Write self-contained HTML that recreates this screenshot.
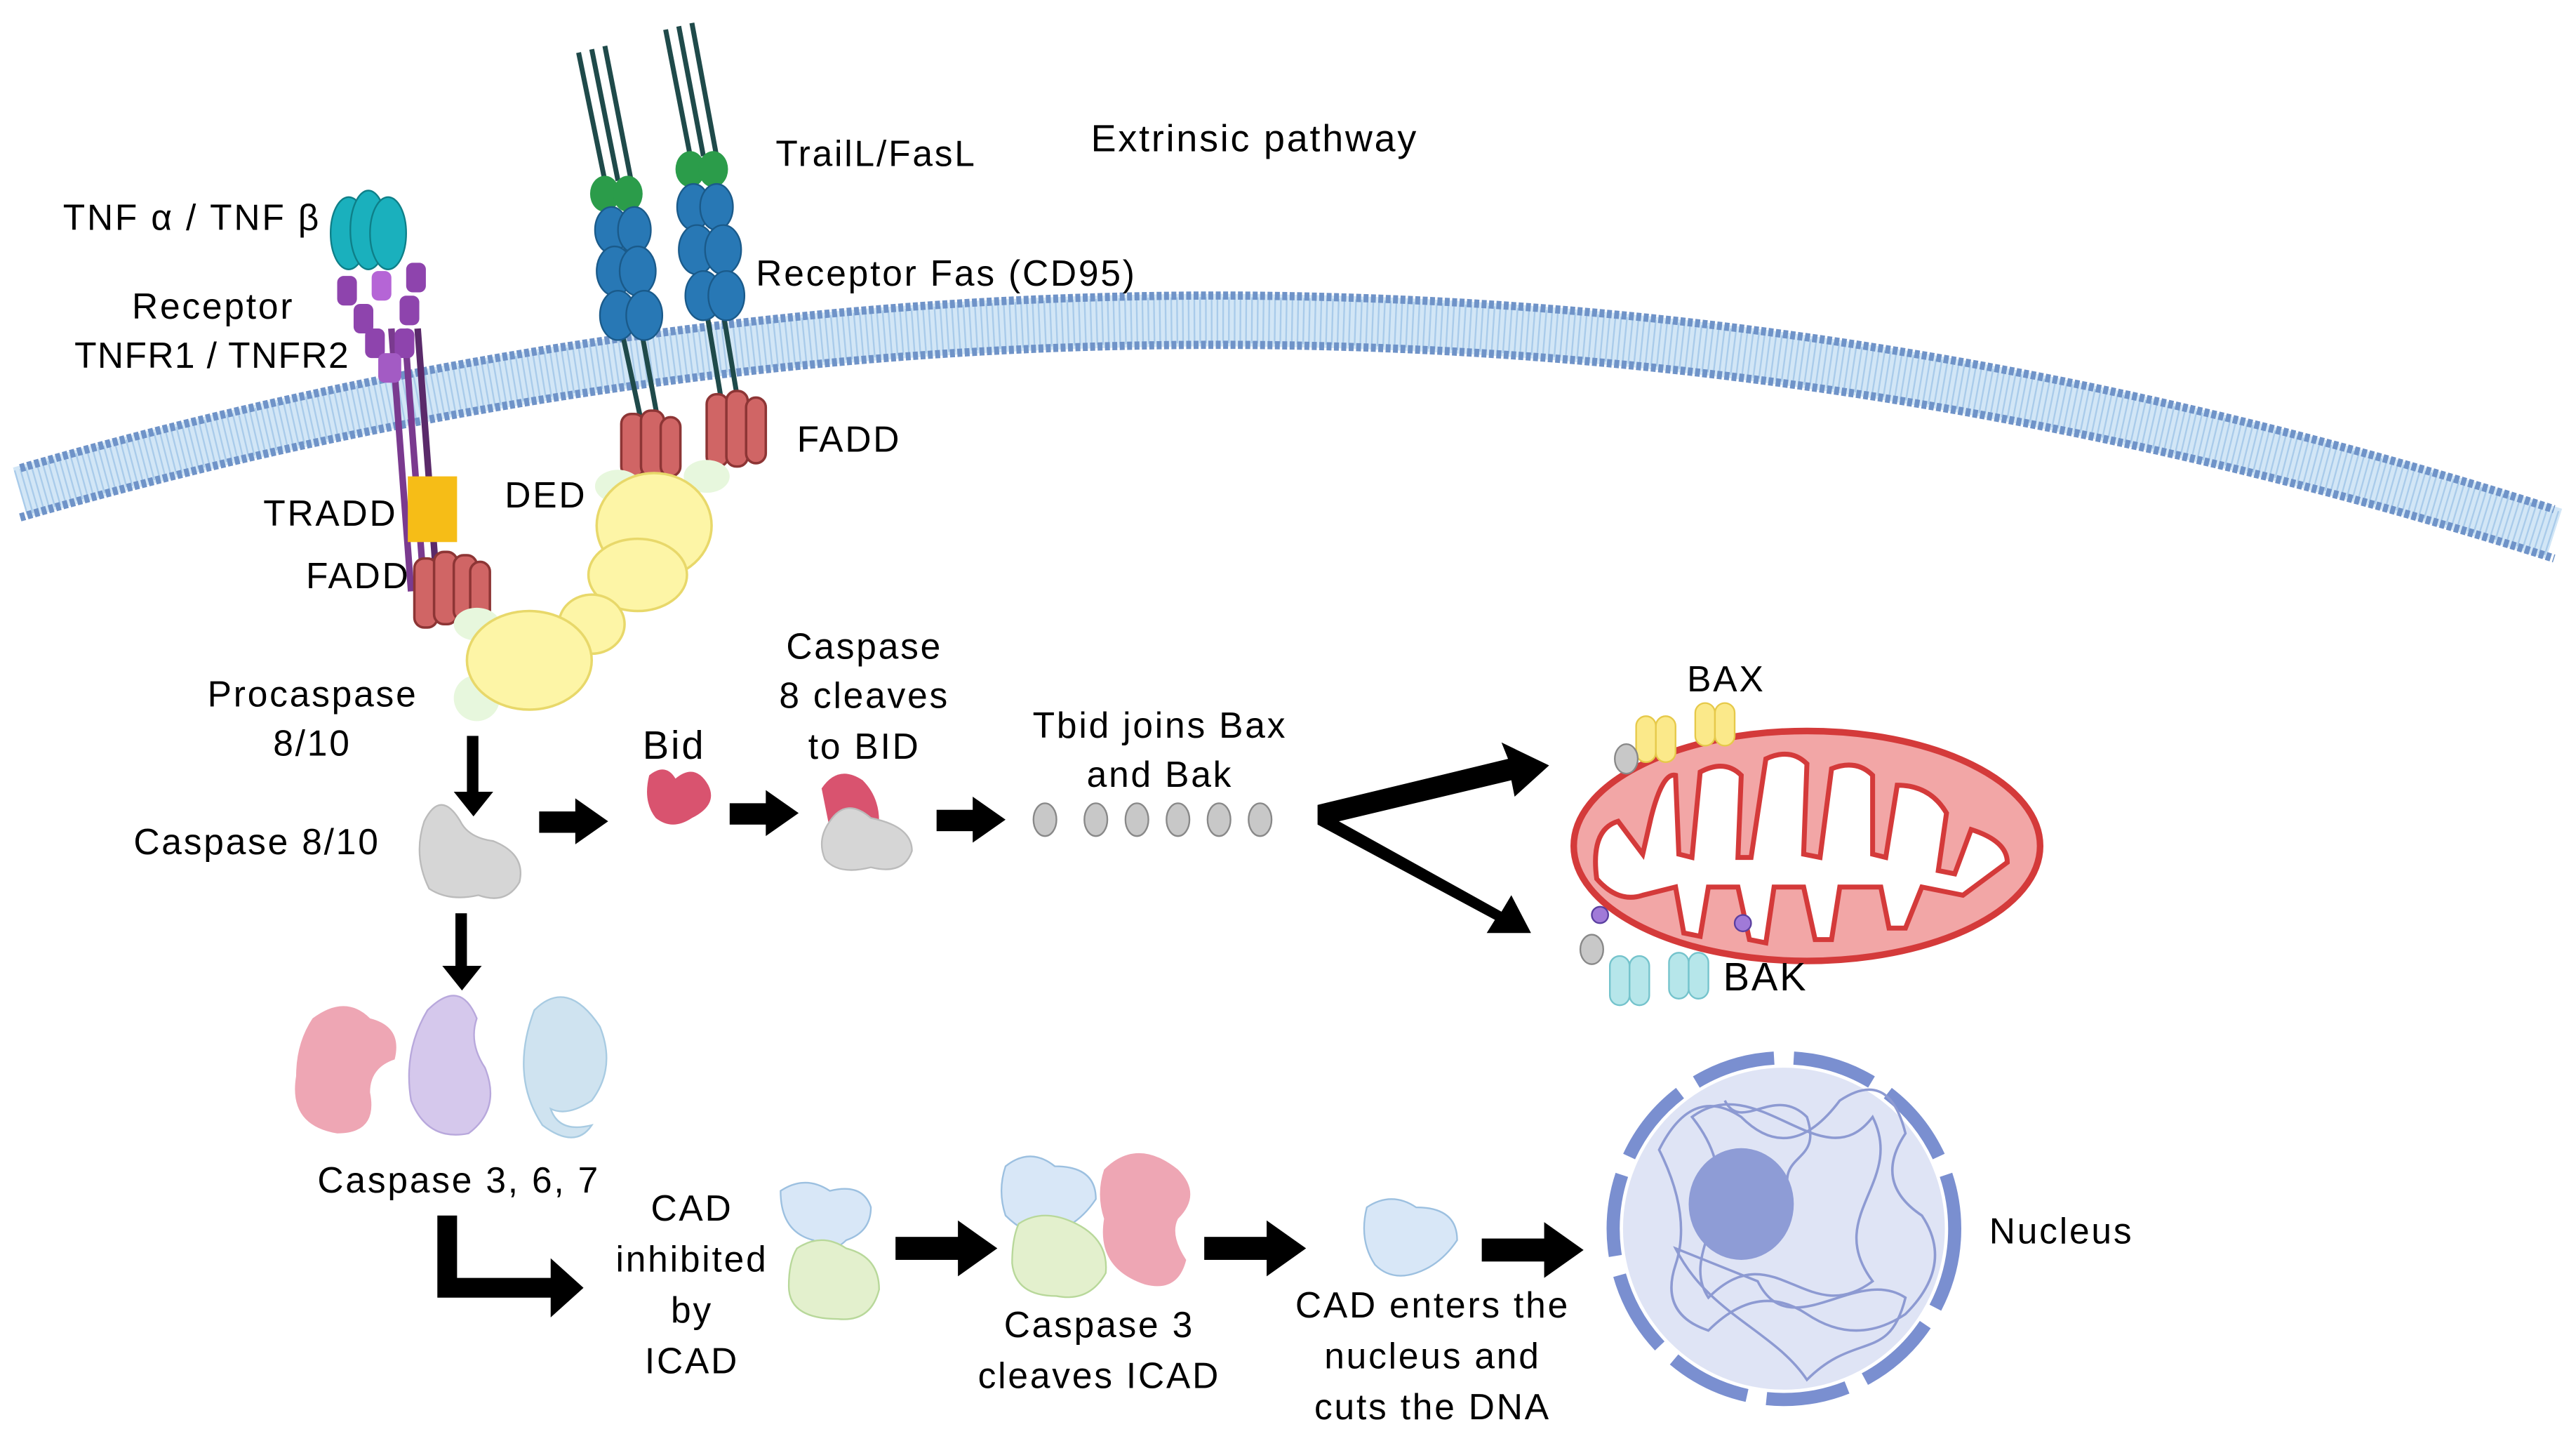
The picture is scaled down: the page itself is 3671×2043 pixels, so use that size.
<!DOCTYPE html>
<html><head><meta charset="utf-8"><style>html,body{margin:0;padding:0;background:#fff}svg{display:block}</style></head>
<body>
<svg width="3671" height="2043" viewBox="0 0 1568 873" xmlns="http://www.w3.org/2000/svg" font-family="Liberation Sans, sans-serif" font-size="22" letter-spacing="1.2" fill="#000">
<rect width="1568" height="873" fill="#fff"/>
<!-- membrane -->
<path d="M12,300 Q780,78 1555,325" stroke="#d2e6f6" stroke-width="32" fill="none"/>
<path d="M12,300 Q780,78 1555,325" stroke="#a9cbea" stroke-width="28" fill="none" stroke-dasharray="1 2.5"/>
<path d="M12,285 Q780,63 1555,310" stroke="#6f93c8" stroke-width="5" fill="none" stroke-dasharray="3 1.5"/>
<path d="M12,315 Q780,93 1555,340" stroke="#6f93c8" stroke-width="5" fill="none" stroke-dasharray="3 1.5"/>

<!-- TNF receptor -->
<g>
<line x1="238" y1="200" x2="250" y2="360" stroke="#7a3a8f" stroke-width="4"/>
<line x1="246" y1="200" x2="258" y2="360" stroke="#7a3a8f" stroke-width="4"/>
<line x1="254" y1="200" x2="266" y2="360" stroke="#5a2a6a" stroke-width="4"/>
<g fill="#8e44ad"><rect x="205" y="168" width="12" height="18" rx="4"/><rect x="215" y="185" width="12" height="18" rx="4"/><rect x="222" y="200" width="12" height="18" rx="4"/><rect x="247" y="160" width="12" height="18" rx="4"/><rect x="243" y="180" width="12" height="18" rx="4"/><rect x="240" y="200" width="12" height="18" rx="4"/><rect x="230" y="215" width="14" height="18" rx="4" fill="#a35bc4"/><rect x="226" y="165" width="12" height="18" rx="4" fill="#b565d6"/></g>
<rect x="248" y="290" width="30" height="40" fill="#f6bd17"/>
<g fill="#d06565" stroke="#8d3535" stroke-width="1.5"><rect x="252" y="340" width="14" height="42" rx="6"/><rect x="264" y="336" width="14" height="44" rx="6"/><rect x="276" y="338" width="14" height="40" rx="6"/><rect x="286" y="342" width="12" height="36" rx="6"/></g>
<g fill="#1ab0bd" stroke="#0e7f88"><ellipse cx="212" cy="142" rx="11" ry="22"/><ellipse cx="224" cy="140" rx="11" ry="24"/><ellipse cx="236" cy="142" rx="11" ry="22"/></g>
</g>
<!-- Fas receptors -->
<g stroke="#1f4a4a" stroke-width="3">
<line x1="352" y1="32" x2="368" y2="110"/><line x1="360" y1="30" x2="376" y2="110"/><line x1="368" y1="28" x2="384" y2="110"/>
<line x1="405" y1="18" x2="420" y2="95"/><line x1="413" y1="16" x2="428" y2="95"/><line x1="421" y1="14" x2="436" y2="95"/>
<line x1="378" y1="200" x2="392" y2="265"/><line x1="390" y1="200" x2="402" y2="265"/>
<line x1="430" y1="190" x2="440" y2="250"/><line x1="440" y1="190" x2="450" y2="250"/>
</g>
<g fill="#2b9c4a"><ellipse cx="368" cy="118" rx="9" ry="11"/><ellipse cx="382" cy="118" rx="9" ry="11"/><ellipse cx="420" cy="103" rx="9" ry="11"/><ellipse cx="434" cy="103" rx="9" ry="11"/></g>
<g fill="#2878b5" stroke="#1a5a8a"><ellipse cx="372" cy="140" rx="10" ry="14"/><ellipse cx="386" cy="140" rx="10" ry="14"/><ellipse cx="374" cy="165" rx="11" ry="15"/><ellipse cx="388" cy="165" rx="11" ry="15"/><ellipse cx="376" cy="192" rx="11" ry="15"/><ellipse cx="392" cy="192" rx="11" ry="15"/>
<ellipse cx="422" cy="126" rx="10" ry="14"/><ellipse cx="436" cy="126" rx="10" ry="14"/><ellipse cx="424" cy="152" rx="11" ry="15"/><ellipse cx="440" cy="152" rx="11" ry="15"/><ellipse cx="428" cy="180" rx="11" ry="15"/><ellipse cx="442" cy="180" rx="11" ry="15"/></g>
<g fill="#d06565" stroke="#8d3535" stroke-width="1.5"><rect x="378" y="252" width="14" height="38" rx="6"/><rect x="390" y="250" width="14" height="40" rx="6"/><rect x="402" y="254" width="12" height="36" rx="6"/>
<rect x="430" y="240" width="13" height="44" rx="6"/><rect x="442" y="238" width="13" height="46" rx="6"/><rect x="454" y="242" width="12" height="40" rx="6"/></g>
<!-- procaspase yellow -->
<g fill="#e7f7dd"><ellipse cx="376" cy="296" rx="14" ry="10"/><ellipse cx="430" cy="290" rx="14" ry="10"/><ellipse cx="290" cy="380" rx="14" ry="10"/><ellipse cx="290" cy="425" rx="14" ry="14"/></g>
<g fill="#fdf5a6" stroke="#e8d86a" stroke-width="1.5">
<ellipse cx="398" cy="320" rx="35" ry="32"/><ellipse cx="388" cy="350" rx="30" ry="22"/>
<ellipse cx="360" cy="380" rx="20" ry="18"/><ellipse cx="322" cy="402" rx="38" ry="30"/></g>

<!-- Mitochondrion -->
<ellipse cx="1100" cy="515" rx="142" ry="70" fill="#f2a6a6" stroke="#d43a3a" stroke-width="4"/>
<path d="M972,535 Q968,505 985,500 L1000,520 L1005,498 Q1012,470 1020,472 L1022,520 L1030,522 L1035,470 Q1050,462 1060,472 L1058,522 L1066,522 L1075,462 Q1090,455 1100,465 L1098,520 L1108,522 L1115,468 Q1130,462 1140,472 L1140,520 L1148,522 L1155,478 Q1175,478 1185,495 L1180,530 L1190,532 L1200,505 Q1222,512 1222,525 L1195,545 L1170,540 L1160,565 L1150,565 L1145,540 L1120,540 L1115,572 L1105,572 L1098,540 L1080,540 L1075,574 L1065,572 L1058,540 L1040,540 L1035,570 L1025,568 L1020,540 L1000,545 Q985,550 972,535 Z" fill="#fff" stroke="#d43a3a" stroke-width="3"/>
<circle cx="974" cy="557" r="5" fill="#a07ad8" stroke="#5a3fa0"/><circle cx="1061" cy="562" r="5" fill="#a07ad8" stroke="#5a3fa0"/>
<g fill="#fbe98a" stroke="#e6c94a"><rect x="996" y="436" width="12" height="28" rx="6"/><rect x="1008" y="436" width="12" height="28" rx="6"/><rect x="1032" y="428" width="12" height="26" rx="6"/><rect x="1044" y="428" width="12" height="26" rx="6"/></g>
<g fill="#b6e6ea" stroke="#74c3cc"><rect x="980" y="582" width="12" height="30" rx="6"/><rect x="992" y="582" width="12" height="30" rx="6"/><rect x="1016" y="580" width="12" height="28" rx="6"/><rect x="1028" y="580" width="12" height="28" rx="6"/></g>
<g fill="#c8c8c8" stroke="#888"><ellipse cx="990" cy="462" rx="7" ry="9"/><ellipse cx="969" cy="578" rx="7" ry="9"/></g>

<!-- Nucleus -->
<circle cx="1086" cy="748" r="98" fill="#dfe4f5"/>
<circle cx="1086" cy="748" r="104" fill="none" stroke="#7a8fd0" stroke-width="8" stroke-dasharray="50 12"/>
<g fill="none" stroke="#8d9ad2" stroke-width="1.5">
<path d="M1010,700 q20,-40 50,-20 q30,30 60,-10 q30,-20 40,20 q-20,30 10,50 q20,30 -10,60 q-30,20 -60,0 q-30,-20 -60,10 q-30,-10 -20,-40 q10,-30 -10,-70z"/>
<path d="M1030,680 c40,-30 80,40 110,0 c20,40 -30,60 0,100 c-40,30 -60,-30 -100,10 c-20,-30 30,-60 -10,-110z"/>
<path d="M1020,760 c20,40 60,50 80,80 c30,-30 50,-10 60,-50 c-30,-20 -70,30 -90,-10z"/>
<path d="M1050,670 c10,20 30,-10 50,10 c10,30 -20,20 -10,50"/>
</g>
<ellipse cx="1060" cy="733" rx="32" ry="34" fill="#8e9cd6"/>

<!-- caspase shapes -->
<path d="M258,500 q10,-20 22,0 q5,10 20,12 q20,8 16,25 q-8,14 -25,8 q-18,4 -30,-4 q-10,-20 -3,-41z" fill="#d6d6d6" stroke="#bbb"/>
<path d="M395,472 q10,-8 16,2 q12,-10 20,4 q6,12 -10,20 q-12,8 -22,0 q-8,-10 -4,-26z" fill="#d9536f"/>
<path d="M500,480 q10,-15 25,-5 q10,10 10,25 l-30,5z" fill="#d9536f"/>
<path d="M505,500 q10,-15 25,-2 q25,5 25,20 q-5,15 -25,10 q-20,5 -28,-5 q-5,-12 3,-23z" fill="#d6d6d6" stroke="#bbb"/>
<g fill="#c8c8c8" stroke="#888"><ellipse cx="636" cy="499" rx="7" ry="10"/><ellipse cx="667" cy="499" rx="7" ry="10"/><ellipse cx="692" cy="499" rx="7" ry="10"/><ellipse cx="717" cy="499" rx="7" ry="10"/><ellipse cx="742" cy="499" rx="7" ry="10"/><ellipse cx="767" cy="499" rx="7" ry="10"/></g>
<path d="M190,620 q20,-15 35,0 q20,5 15,25 q-15,5 -15,20 q5,25 -20,25 q-30,-5 -25,-35 q0,-20 10,-35z" fill="#eea6b4"/>
<path d="M260,615 q20,-20 30,5 q-5,15 5,30 q10,25 -10,40 q-25,5 -35,-20 q-5,-30 10,-55z" fill="#d5c8ec" stroke="#b8a8dc"/>
<path d="M325,615 q20,-20 40,10 q10,25 -5,45 q-15,10 -25,5 q5,15 25,10 q-10,15 -30,0 q-20,-30 -5,-70z" fill="#cfe3f0" stroke="#a8cbe2"/>
<path d="M475,725 q15,-10 30,0 q20,-5 25,10 q0,15 -15,20 q-10,10 -20,0 q-20,-5 -20,-30z" fill="#d8e7f7" stroke="#9cc0e0"/>
<path d="M485,760 q15,-10 30,0 q20,5 20,25 q-5,20 -25,18 q-30,0 -30,-20 q0,-15 5,-23z" fill="#e3f0cd" stroke="#b8d89a"/>
<path d="M612,710 q15,-12 30,0 q25,0 25,20 q-10,15 -25,20 q-15,5 -30,-10 q-5,-15 0,-30z" fill="#d8e7f7" stroke="#9cc0e0"/>
<path d="M620,745 q15,-10 35,0 q20,10 18,30 q-10,18 -30,14 q-25,0 -27,-20 q0,-15 4,-24z" fill="#e3f0cd" stroke="#b8d89a"/>
<path d="M672,712 q20,-20 45,0 q15,15 0,30 q-5,10 5,25 q-5,20 -25,15 q-30,-10 -25,-40 q-5,-15 0,-30z" fill="#eea6b4"/>
<path d="M832,735 q15,-10 30,0 q25,0 25,20 q-10,15 -25,20 q-15,5 -25,-5 q-10,-15 -5,-35z" fill="#d8e7f7" stroke="#9cc0e0"/>

<!-- arrows -->
<g fill="#000">
<rect x="284" y="448" width="7" height="36"/><polygon points="276,482 300,482 288,497"/>
<rect x="277" y="556" width="7" height="36"/><polygon points="269,588 293,588 281,603"/>
<rect x="328" y="494" width="24" height="13"/><polygon points="350,486 350,514 370,500"/>
<rect x="444" y="489" width="24" height="13"/><polygon points="466,481 466,509 486,495"/>
<rect x="570" y="493" width="24" height="13"/><polygon points="592,485 592,513 612,499"/>
<rect x="545" y="753" width="40" height="14"/><polygon points="583,743 583,777 607,760"/>
<rect x="733" y="753" width="40" height="14"/><polygon points="771,743 771,777 795,760"/>
<rect x="902" y="754" width="40" height="14"/><polygon points="940,744 940,778 964,761"/>
<polygon points="266,740 278,740 278,778 335,778 335,766 355,784 335,802 335,790 266,790"/>
<polygon points="802,490 918,462 914,452 943,466 922,485 920,475 815,500 914,555 920,545 932,568 905,568 910,560 802,502"/>
</g>

<!-- text -->
<text x="664" y="92" font-size="23">Extrinsic pathway</text>
<text x="472" y="101">TrailL/FasL</text>
<text x="38" y="140">TNF α  / TNF β</text>
<text x="460" y="174">Receptor  Fas (CD95)</text>
<text x="80" y="194">Receptor</text>
<text x="45" y="224" letter-spacing="0.6">TNFR1  / TNFR2</text>
<text x="485" y="275">FADD</text>
<text x="307" y="309">DED</text>
<text x="160" y="320">TRADD</text>
<text x="186" y="358">FADD</text>
<text x="126" y="430">Procaspase</text>
<text x="166" y="460">8/10</text>
<text x="81" y="520">Caspase  8/10</text>
<text x="391" y="462" font-size="24">Bid</text>
<text x="526" y="401" text-anchor="middle">Caspase</text>
<text x="526" y="431" text-anchor="middle">8 cleaves</text>
<text x="526" y="462" text-anchor="middle">to BID</text>
<text x="706" y="449" text-anchor="middle">Tbid joins Bax</text>
<text x="706" y="479" text-anchor="middle">and Bak</text>
<text x="1027" y="421">BAX</text>
<text x="1049" y="603" font-size="24">BAK</text>
<text x="193" y="726">Caspase 3, 6, 7</text>
<text x="421" y="743" text-anchor="middle">CAD</text>
<text x="421" y="774" text-anchor="middle">inhibited</text>
<text x="421" y="805" text-anchor="middle">by</text>
<text x="421" y="836" text-anchor="middle">ICAD</text>
<text x="669" y="814" text-anchor="middle">Caspase 3</text>
<text x="669" y="845" text-anchor="middle">cleaves ICAD</text>
<text x="872" y="802" text-anchor="middle">CAD enters the</text>
<text x="872" y="833" text-anchor="middle">nucleus and</text>
<text x="872" y="864" text-anchor="middle">cuts the DNA</text>
<text x="1211" y="757">Nucleus</text>
</svg>
</body></html>
